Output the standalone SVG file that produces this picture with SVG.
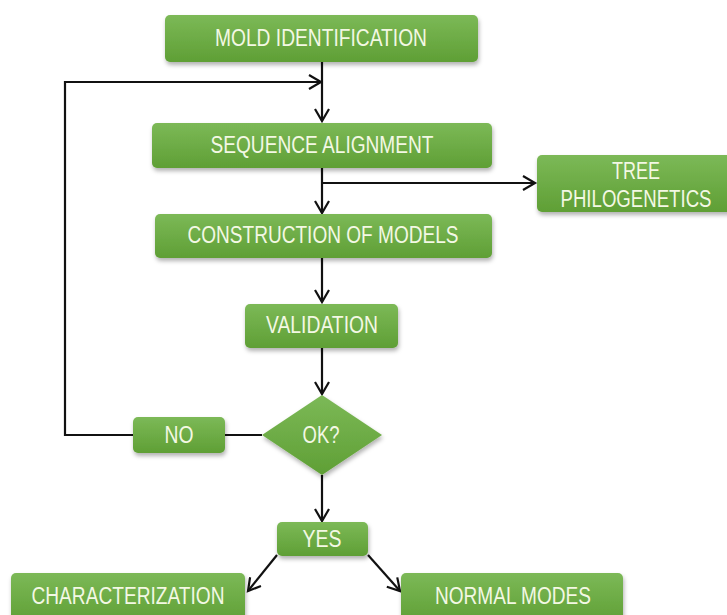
<svg xmlns="http://www.w3.org/2000/svg" width="727" height="615" viewBox="0 0 727 615">
<defs>
<linearGradient id="g" x1="0" y1="0" x2="0" y2="1">
<stop offset="0" stop-color="#7cb957"/>
<stop offset="1" stop-color="#5f9f35"/>
</linearGradient>
<filter id="sh" x="-10%" y="-20%" width="120%" height="150%">
<feDropShadow dx="1" dy="3" stdDeviation="2" flood-color="#000" flood-opacity="0.3"/>
</filter>
<marker id="ah" markerWidth="16" markerHeight="16" refX="13" refY="8" orient="auto" markerUnits="userSpaceOnUse">
<path d="M1,1 L13,8 L1,15" fill="none" stroke="#111" stroke-width="2.2"/>
</marker>
</defs>
<style>
.b{fill:url(#g);filter:url(#sh)}
.t{font-family:"Liberation Sans Narrow","Liberation Sans",Arial,sans-serif;font-size:23px;fill:#f3f8e4;text-anchor:middle}
.c{fill:none;stroke:#111;stroke-width:2.2}
</style>
<rect width="727" height="615" fill="#fff"/>
<g id="connectors">
<path class="c" d="M322,62 V121" marker-end="url(#ah)"/>
<path class="c" d="M133,435 H65 V82 H321" marker-end="url(#ah)"/>
<path class="c" d="M322,168 V213" marker-end="url(#ah)"/>
<path class="c" d="M322,183 H535" marker-end="url(#ah)"/>
<path class="c" d="M322,258 V302" marker-end="url(#ah)"/>
<path class="c" d="M322,348 V394" marker-end="url(#ah)"/>
<path class="c" d="M225,435 H262"/>
<path class="c" d="M322,475 V521" marker-end="url(#ah)"/>
<path class="c" d="M277,555 L248,591" marker-end="url(#ah)"/>
<path class="c" d="M368,555 L400,591" marker-end="url(#ah)"/>
</g>
<g id="mold"><rect class="b" x="165" y="15" width="313" height="47" rx="5"/><text class="t" x="321" y="46" textLength="212" lengthAdjust="spacingAndGlyphs">MOLD IDENTIFICATION</text></g>
<g id="seq"><rect class="b" x="152" y="123" width="340" height="45" rx="5"/><text class="t" x="322" y="153" textLength="223" lengthAdjust="spacingAndGlyphs">SEQUENCE ALIGNMENT</text></g>
<g id="tree"><rect class="b" x="537" y="155" width="200" height="57" rx="5"/><text class="t" x="636" y="179" textLength="48" lengthAdjust="spacingAndGlyphs">TREE</text><text class="t" x="636" y="207" textLength="151" lengthAdjust="spacingAndGlyphs">PHILOGENETICS</text></g>
<g id="cons"><rect class="b" x="155" y="214" width="337" height="44" rx="5"/><text class="t" x="323" y="243" textLength="271" lengthAdjust="spacingAndGlyphs">CONSTRUCTION OF MODELS</text></g>
<g id="valid"><rect class="b" x="245" y="304" width="153" height="44" rx="5"/><text class="t" x="322" y="333" textLength="112" lengthAdjust="spacingAndGlyphs">VALIDATION</text></g>
<g id="ok"><polygon class="b" points="322,395 382,435 322,475 262,435"/><text class="t" x="321" y="443" textLength="37" lengthAdjust="spacingAndGlyphs">OK?</text></g>
<g id="no"><rect class="b" x="133" y="417" width="92" height="36" rx="5"/><text class="t" x="179" y="443" textLength="29" lengthAdjust="spacingAndGlyphs">NO</text></g>
<g id="yes"><rect class="b" x="277" y="522" width="91" height="34" rx="5"/><text class="t" x="322" y="547" textLength="39" lengthAdjust="spacingAndGlyphs">YES</text></g>
<g id="char"><rect class="b" x="11" y="573" width="234" height="50" rx="5"/><text class="t" x="128" y="604" textLength="193" lengthAdjust="spacingAndGlyphs">CHARACTERIZATION</text></g>
<g id="normal"><rect class="b" x="401" y="573" width="222" height="50" rx="5"/><text class="t" x="513" y="604" textLength="156" lengthAdjust="spacingAndGlyphs">NORMAL MODES</text></g>
</svg>
